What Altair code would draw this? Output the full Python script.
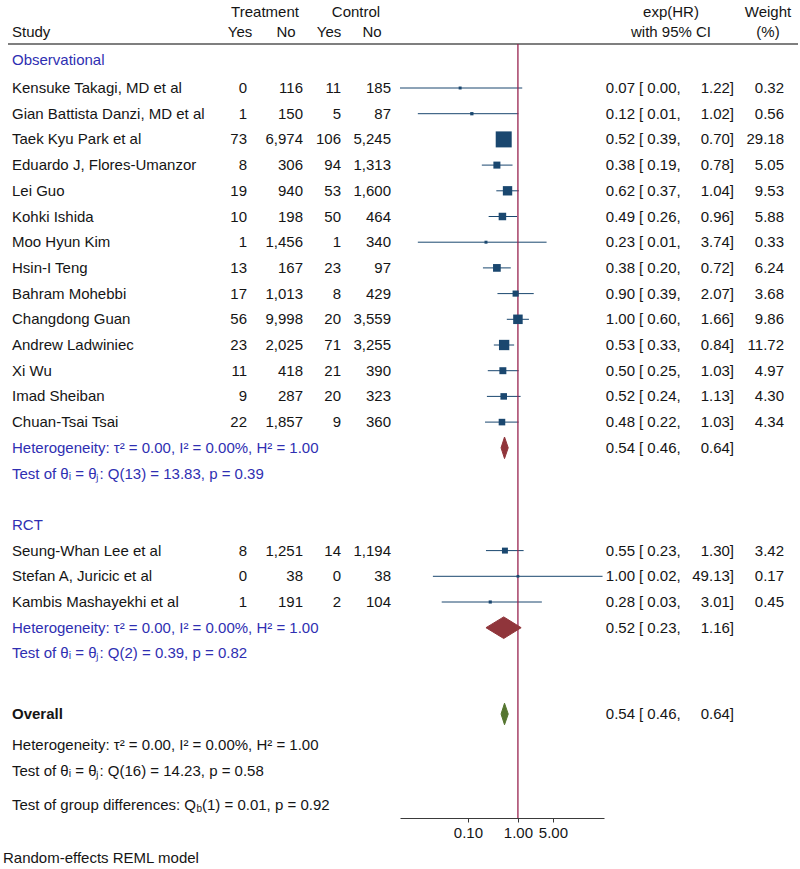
import altair as alt
import pandas as pd

# ---------------- data ----------------
obs_study = [
    "Kensuke Takagi, MD et al", "Gian Battista Danzi, MD et al", "Taek Kyu Park et al",
    "Eduardo J, Flores-Umanzor", "Lei Guo", "Kohki Ishida", "Moo Hyun Kim", "Hsin-I Teng",
    "Bahram Mohebbi", "Changdong Guan", "Andrew Ladwiniec", "Xi Wu", "Imad Sheiban",
    "Chuan-Tsai Tsai",
]
obs_t_yes = [0, 1, 73, 8, 19, 10, 1, 13, 17, 56, 23, 11, 9, 22]
obs_t_no = [116, 150, 6974, 306, 940, 198, 1456, 167, 1013, 9998, 2025, 418, 287, 1857]
obs_c_yes = [11, 5, 106, 94, 53, 50, 1, 23, 8, 20, 71, 21, 20, 9]
obs_c_no = [185, 87, 5245, 1313, 1600, 464, 340, 97, 429, 3559, 3255, 390, 323, 360]
obs_hr = [0.07, 0.12, 0.52, 0.38, 0.62, 0.49, 0.23, 0.38, 0.90, 1.00, 0.53, 0.50, 0.52, 0.48]
obs_lo = [0.0044, 0.01, 0.39, 0.19, 0.37, 0.26, 0.01, 0.20, 0.39, 0.60, 0.33, 0.25, 0.24, 0.22]
obs_hi = [1.22, 1.02, 0.70, 0.78, 1.04, 0.96, 3.74, 0.72, 2.07, 1.66, 0.84, 1.03, 1.13, 1.03]
obs_w = [0.32, 0.56, 29.18, 5.05, 9.53, 5.88, 0.33, 6.24, 3.68, 9.86, 11.72, 4.97, 4.30, 4.34]

rct_study = ["Seung-Whan Lee et al", "Stefan A, Juricic et al", "Kambis Mashayekhi et al"]
rct_t_yes = [8, 0, 1]
rct_t_no = [1251, 38, 191]
rct_c_yes = [14, 0, 2]
rct_c_no = [1194, 38, 104]
rct_hr = [0.55, 1.00, 0.28]
rct_lo = [0.23, 0.02, 0.03]
rct_hi = [1.30, 49.13, 3.01]
rct_w = [3.42, 0.17, 0.45]

pooled_name = ["Observational", "RCT", "Overall"]
pooled_hr = [0.54, 0.52, 0.54]
pooled_lo = [0.46, 0.23, 0.46]
pooled_hi = [0.64, 1.16, 0.64]

het_text = "Heterogeneity: \u03c4\u00b2 = 0.00, I\u00b2 = 0.00%, H\u00b2 = 1.00"
q_text = [
    "Test of \u03b8\u1d62 = \u03b8\u2c7c: Q(13) = 13.83, p = 0.39",
    "Test of \u03b8\u1d62 = \u03b8\u2c7c: Q(2) = 0.39, p = 0.82",
    "Test of \u03b8\u1d62 = \u03b8\u2c7c: Q(16) = 14.23, p = 0.58",
]
group_test = ["Test of group differences: Q", "b", "(1) = 0.01, p = 0.92"]
model_note = "Random-effects REML model"

axis_ticks = [0.1, 1, 5]

# ---------------- styling / layout ----------------
FONT = "Liberation Sans"
FS = 15
BLACK = "#151515"
BLUE = "#2f2fb2"
NAVY = "#1a476f"
MAROON = "#90353b"
GREEN = "#55752f"
REFLINE = "#97234f"

ROW_PX = 25.7          # vertical distance between table rows
ROW0_PX = 88           # centre of the first study row
PLOT_H = 818           # plot area height (x axis sits at its bottom)
HALF_DIAMOND = 0.42    # half height of a pooled diamond, in rows

y_scale = alt.Scale(domain=[-ROW0_PX / ROW_PX, (PLOT_H - ROW0_PX) / ROW_PX],
                    reverse=True, zero=False, nice=False)
x_scale = alt.Scale(type="log", domain=[0.0044, 52.5], range=[400, 604], nice=False)


def px_row(px):
    return (px - ROW0_PX) / ROW_PX


# row layout
obs_rows = list(range(len(obs_study)))
obs_het_row = len(obs_study)
obs_q_row = obs_het_row + 1
rct_label_row = obs_q_row + 2
rct_rows = [rct_label_row + 1 + i for i in range(len(rct_study))]
rct_het_row = rct_rows[-1] + 1
rct_q_row = rct_het_row + 1
overall_row = px_row(714)
overall_het_row = px_row(745)
overall_q_row = px_row(771)
group_row = px_row(805)
note_row = px_row(858)
head1_row = px_row(12)
head2_row = px_row(32)
rule_row = px_row(44)
obs_label_row = px_row(60)
axis_row = px_row(PLOT_H)


def fmt2(v):
    return f"{v:.2f}"


studies = pd.DataFrame({
    "study": obs_study + rct_study,
    "tyes": [f"{v:,}" for v in obs_t_yes + rct_t_yes],
    "tno": [f"{v:,}" for v in obs_t_no + rct_t_no],
    "cyes": [f"{v:,}" for v in obs_c_yes + rct_c_yes],
    "cno": [f"{v:,}" for v in obs_c_no + rct_c_no],
    "hr": obs_hr + rct_hr,
    "lo": obs_lo + rct_lo,
    "hi": obs_hi + rct_hi,
    "w": obs_w + rct_w,
    "row": obs_rows + rct_rows,
})
studies["hr_s"] = studies["hr"].map(fmt2)
studies["lo_s"] = studies["lo"].map(lambda v: f"[ {v:.2f},")
studies["hi_s"] = studies["hi"].map(lambda v: f"{v:.2f}]")
studies["w_s"] = studies["w"].map(fmt2)

pooled_rows = [obs_het_row, rct_het_row, overall_row]
pooled = pd.DataFrame({
    "name": pooled_name,
    "hr": pooled_hr, "lo": pooled_lo, "hi": pooled_hi,
    "row": pooled_rows,
})
pooled["hr_s"] = pooled["hr"].map(fmt2)
pooled["lo_s"] = pooled["lo"].map(lambda v: f"[ {v:.2f},")
pooled["hi_s"] = pooled["hi"].map(lambda v: f"{v:.2f}]")

# diamond outlines: left tip, top, right tip, bottom, back to the left tip
dia = []
for _, r in pooled.iterrows():
    pts = [(r["lo"], 0.0), (r["hr"], -HALF_DIAMOND), (r["hi"], 0.0),
           (r["hr"], HALF_DIAMOND), (r["lo"], 0.0)]
    for k, (xv, dy) in enumerate(pts):
        dia.append({"g": r["name"], "xv": xv, "yv": r["row"] + dy,
                    "ylo": r["row"] - abs(dy), "yhi": r["row"] + abs(dy), "k": k})
diamonds = pd.DataFrame(dia)


def Y(field="row"):
    return alt.Y(f"{field}:Q", scale=y_scale, axis=None)


def text_at(df, field, x, align="left", color=BLACK, size=FS, **kw):
    return alt.Chart(df).mark_text(
        align=align, baseline="middle", font=FONT, fontSize=size, color=color, **kw
    ).encode(x=alt.value(x), y=Y(), text=alt.Text(f"{field}:N"))


def one_text(txt, row, x, align="left", color=BLACK, size=FS, **kw):
    return text_at(pd.DataFrame({"txt": [txt], "row": [row]}), "txt", x, align, color,
                   size, **kw)


layers = []

# header rule
layers.append(
    alt.Chart(pd.DataFrame({"row": [rule_row]})).mark_rule(color="#555555", strokeWidth=1.5)
    .encode(x=alt.value(8), x2=alt.value(798), y=Y())
)

# confidence intervals (carry the x axis)
layers.append(
    alt.Chart(studies).mark_rule(color=NAVY, strokeWidth=1).encode(
        x=alt.X("lo:Q", scale=x_scale,
                axis=alt.Axis(values=axis_ticks, format=".2f", title=None, grid=False,
                              domainColor="#3a3a3a", tickColor="#3a3a3a", tickSize=4,
                              domainWidth=1, tickWidth=1, labelFont=FONT, labelFontSize=FS,
                              labelColor=BLACK, labelPadding=3, labelOverlap=False,
                              labelFlush=False)),
        x2="hi:Q",
        y=Y(),
    )
)

# line of no effect
layers.append(
    alt.Chart(pd.DataFrame({"lo": [1.0], "y1": [rule_row], "y2": [axis_row]}))
    .mark_rule(color=REFLINE, strokeWidth=1.3)
    .encode(x=alt.X("lo:Q", scale=x_scale), y=Y("y1"), y2="y2:Q")
)

# study markers, area proportional to weight
layers.append(
    alt.Chart(studies).mark_square(filled=True, opacity=1, color=NAVY).encode(
        x=alt.X("hr:Q", scale=x_scale),
        y=Y(),
        size=alt.Size("w:Q", scale=alt.Scale(domain=[0, 29.18], range=[6, 256], zero=False),
                      legend=None),
    )
)

# pooled diamonds: filled band between the upper and lower edges, plus outline
for name, col in zip(pooled_name, [MAROON, MAROON, GREEN]):
    d = diamonds[(diamonds["g"] == name) & (diamonds["k"] < 3)]
    layers.append(
        alt.Chart(d).mark_area(color=col, opacity=1, orient="vertical").encode(
            x=alt.X("xv:Q", scale=x_scale),
            y=alt.Y("ylo:Q", scale=y_scale, axis=None, stack=None),
            y2=alt.Y2("yhi:Q"),
        )
    )
    layers.append(
        alt.Chart(diamonds[diamonds["g"] == name]).mark_line(
            color=col, strokeWidth=1, strokeJoin="miter"
        ).encode(
            x=alt.X("xv:Q", scale=x_scale),
            y=alt.Y("yv:Q", scale=y_scale, axis=None),
            order=alt.Order("k:Q"),
        )
    )

# table columns
layers += [
    text_at(studies, "study", 12),
    text_at(studies, "tyes", 247, "right"),
    text_at(studies, "tno", 303, "right"),
    text_at(studies, "cyes", 341, "right"),
    text_at(studies, "cno", 391, "right"),
    text_at(studies, "hr_s", 635, "right"),
    text_at(studies, "lo_s", 639),
    text_at(studies, "hi_s", 734, "right"),
    text_at(studies, "w_s", 784, "right"),
    text_at(pooled, "hr_s", 635, "right"),
    text_at(pooled, "lo_s", 639),
    text_at(pooled, "hi_s", 734, "right"),
]

# column headers
layers += [
    one_text("Treatment", head1_row, 265, "center"),
    one_text("Control", head1_row, 356, "center"),
    one_text("exp(HR)", head1_row, 671, "center"),
    one_text("Weight", head1_row, 768, "center"),
    one_text("Study", head2_row, 12),
    one_text("Yes", head2_row, 240, "center"),
    one_text("No", head2_row, 286, "center"),
    one_text("Yes", head2_row, 329, "center"),
    one_text("No", head2_row, 372, "center"),
    one_text("with 95% CI", head2_row, 671, "center"),
    one_text("(%)", head2_row, 768, "center"),
]

# group labels and test statistics
layers += [
    one_text("Observational", obs_label_row, 12, color=BLUE),
    one_text(het_text, obs_het_row, 12, color=BLUE),
    one_text(q_text[0], obs_q_row, 12, color=BLUE),
    one_text("RCT", rct_label_row, 12, color=BLUE),
    one_text(het_text, rct_het_row, 12, color=BLUE),
    one_text(q_text[1], rct_q_row, 12, color=BLUE),
    one_text("Overall", overall_row, 12, fontWeight="bold"),
    one_text(het_text, overall_het_row, 12),
    one_text(q_text[2], overall_q_row, 12),
    one_text(model_note, note_row, 3),
]

# test of group differences with a subscripted b (Arial metrics, 1/1000 em)
ARIAL = {"T": 611, "e": 556, "s": 500, "t": 278, " ": 278, "o": 556, "f": 278, "g": 556,
         "r": 333, "u": 556, "p": 556, "d": 556, "i": 222, "n": 556, "c": 500, ":": 278,
         "Q": 778}
pre_w = sum(ARIAL.get(ch, 556) for ch in group_test[0]) * FS / 1000
sub_x = 12 + pre_w - 1.5
post_x = sub_x + 556 * 10 / 1000
layers += [
    one_text(group_test[0], group_row, 12),
    one_text(group_test[1], group_row, sub_x, size=10, dy=4),
    one_text(group_test[2], group_row, post_x),
]

chart = alt.layer(*layers).properties(
    width=800,
    height=PLOT_H,
    autosize=alt.AutoSizeParams(type="none"),
    padding={"left": 0, "right": 0, "top": 0, "bottom": 869 - PLOT_H},
    background="white",
).configure_view(strokeWidth=0)

chart.save("out.html", embed_options={"renderer": "svg", "actions": False})
